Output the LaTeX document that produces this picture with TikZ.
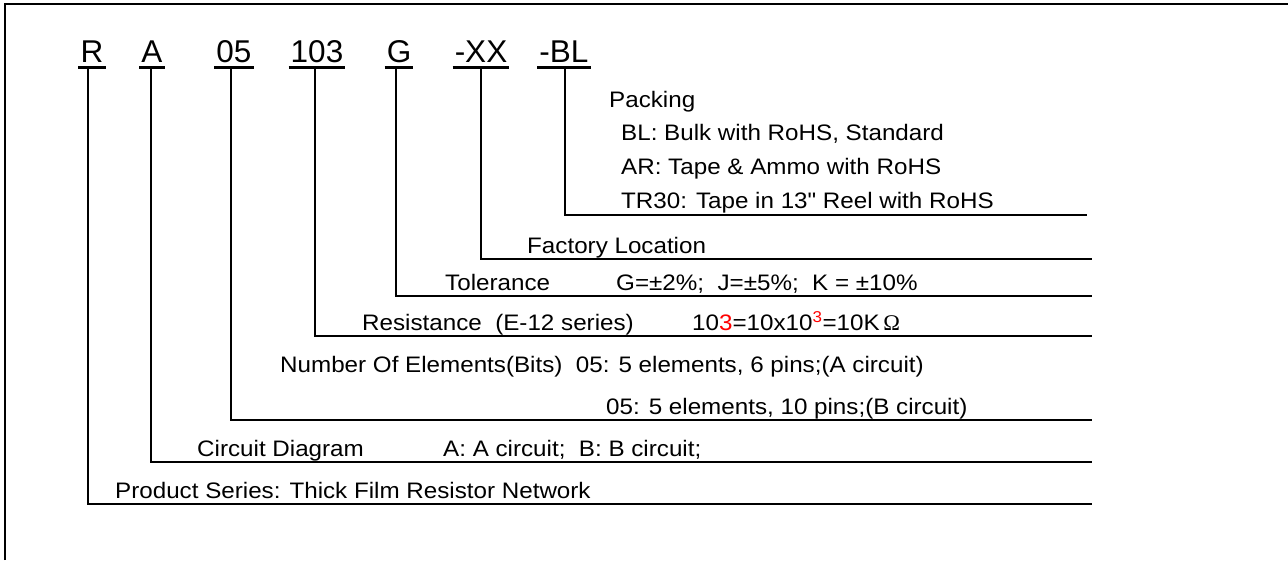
\documentclass[tikz,border=0pt]{standalone}
\usepackage{fontspec}
\setmainfont{Liberation Sans}
\newfontfamily\labelfont{Liberation Sans}[FakeStretch=1.08]
\newfontfamily\ohmfont{Liberation Serif}

\begin{document}
\begin{tikzpicture}[x=1pt,y=-1pt,
    code/.style={inner sep=0pt,anchor=base,font=\fontsize{31.5}{32}\selectfont},
    txt/.style={inner sep=0pt,anchor=base west,font=\labelfont\fontsize{22.4}{24}\selectfont},
    uline/.style={line width=3pt},
    lead/.style={line width=1.2pt}]
    \useasboundingbox (0,0) rectangle (1288,560);
    \draw[line width=2pt] (5,560) -- (5,4) -- (1288,4);
    % code letters, underlines and leaders
    \foreach \name/\x/\dx/\txt/\ex/\ey in {R/92/-4/R/1092/504, A/152/-1/A/1092/462,
        nn/234/-3/05/1092/420, rr/317/-2/103/1092/336, G/399/-3/G/1092/296,
        XX/481/0/-XX/1092/259, BL/564/1/-BL/1087/215}{
      \node[code] (c\name) at (\x,62) {\txt};
      \coordinate (e\name) at (\ex,\ey);
      \draw[uline] ([shift={(-2pt,-5.5pt)}]c\name.base west) -- ([shift={(2pt,-5.5pt)}]c\name.base east);
      \draw[lead] ([shift={(\dx pt,-5.5pt)}]c\name.base) |- (e\name);
    }
    % packing
    \node[txt] (pack) at (609,107) {Packing};
    \node[txt] (packBL) at (621,140) {BL: Bulk with RoHS, Standard};
    \node[txt] (packAR) at (621,174) {AR: Tape \& Ammo with RoHS};
    \node[txt] (packTR) at (621,208) {TR30: Tape in 13" Reel with RoHS};
    % location, tolerance, resistance
    \node[txt] (fact) at (527,253) {Factory Location};
    \node[txt] (tol) at (445,290) {Tolerance};
    \node[txt] (tolval) at (616,290) {G=±2\%;\ \ J=±5\%;\ \ K = ±10\%};
    \node[txt] (res) at (362,330) {Resistance\ \ (E-12 series)};
    \node[txt] (resval) at (692,330) {10{\color{red}3}=10x10\textsuperscript{\color{red}3}=10K\,{\ohmfont Ω}};
    % elements, circuit, series
    \node[txt] (num) at (280,372) {Number Of Elements(Bits)\ \ 05: 5 elements, 6 pins;(A circuit)};
    \node[txt] (numB) at (606,414) {05: 5 elements, 10 pins;(B circuit)};
    \node[txt] (circ) at (197,456) {Circuit Diagram};
    \node[txt] (circval) at (443,456) {A: A circuit;\ \ B: B circuit;};
    \node[txt] (prod) at (115,498) {Product Series: Thick Film Resistor Network};
\end{tikzpicture}
\end{document}
